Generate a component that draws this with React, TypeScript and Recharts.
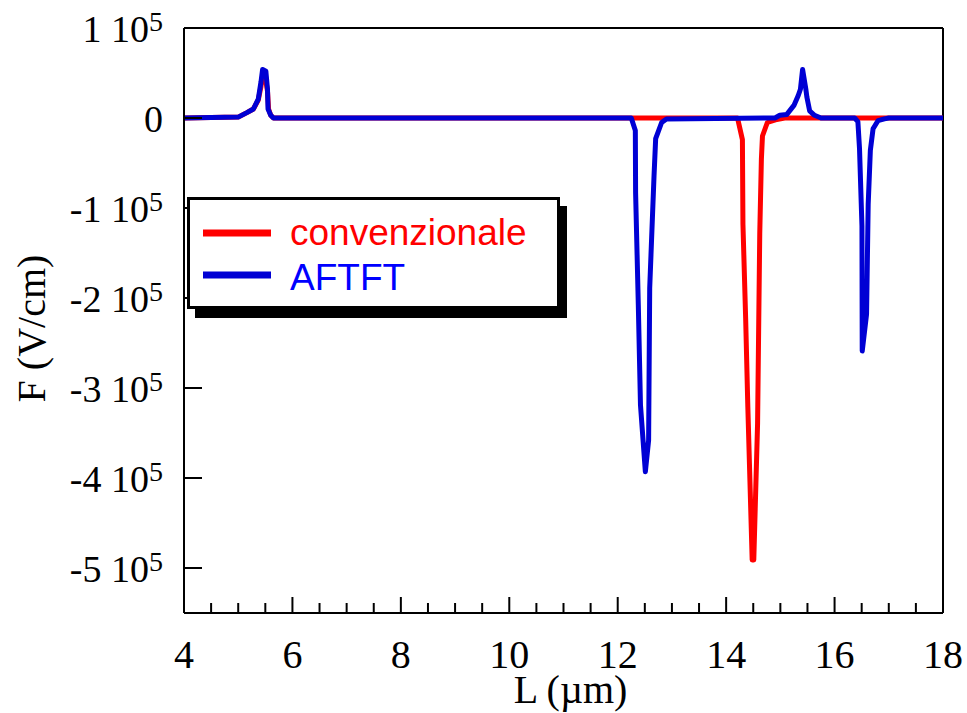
import { Line, LineChart, ReferenceLine, XAxis, YAxis } from 'recharts'

const SERIF = '"Liberation Serif", "Times New Roman", serif'
const SANS = '"Liberation Sans", Arial, sans-serif'

// L (µm) and F (V/cm)
const convL = [
  4, 5.0, 5.16, 5.28, 5.37, 5.42, 5.45, 5.5, 5.54, 5.56, 5.6, 5.65, 14.21,
  14.3, 14.31, 14.36, 14.4, 14.48, 14.51, 14.58, 14.62, 14.65, 14.67, 14.76,
  14.91, 15.08, 18,
]
const convF = [
  0, 1000, 6000, 10000, 20000, 35000, 47000, 45000, 30000, 10000, 3000, 0, 0,
  -24000, -118000, -223000, -321000, -491000, -491000, -339000, -128000,
  -46000, -20000, -5000, -2000, 0, 0,
]

const aftftL = [
  4, 5.0, 5.16, 5.28, 5.37, 5.42, 5.45, 5.51, 5.54, 5.55, 5.6, 5.65, 12.25,
  12.325, 12.33, 12.38, 12.42, 12.51, 12.57, 12.59, 12.67, 12.7, 12.81, 12.9,
  14.9, 14.99, 15.12, 15.25, 15.33, 15.37, 15.41, 15.47, 15.49, 15.54, 15.63,
  15.75, 16.37, 16.43, 16.46, 16.505, 16.51, 16.59, 16.62, 16.66, 16.71, 16.8,
  16.92, 17.0, 18,
]
const aftftF = [
  0, 1000, 6000, 10000, 21000, 40000, 54000, 52000, 32000, 10000, 3000, 0, 0,
  -14000, -83000, -208000, -319000, -393000, -358000, -189000, -64000,
  -23000, -5000, -1000, 0, 3000, 4000, 14000, 25000, 32000, 54000, 32000,
  23000, 8000, 3000, 0, 0, -4000, -34000, -120000, -259000, -218000, -96000,
  -36000, -12000, -3000, -1000, 0, 0,
]

const xTicks = [
  4, 4.5, 5, 5.5, 6, 6.5, 7, 7.5, 8, 8.5, 9, 9.5, 10, 10.5, 11, 11.5, 12,
  12.5, 13, 13.5, 14, 14.5, 15, 15.5, 16, 16.5, 17, 17.5, 18,
]
const yTicks = [100000, 0, -100000, -200000, -300000, -400000, -500000]

const series = [
  { name: 'convenzionale', line: '#ff0000', text: '#ff0000', L: convL, F: convF },
  { name: 'AFTFT', line: '#0000d4', text: '#0000ff', L: aftftL, F: aftftF },
]

const toRows = (L: number[], F: number[]) => L.map((l, i) => ({ L: l, F: F[i] }))

function LTick({ x, y, payload }: any) {
  const v = payload.value as number
  const major = v % 2 === 0
  return (
    <g>
      <line x1={x} x2={x} y1={y} y2={y - (major ? 16 : 10)} stroke="#000" strokeWidth={2} />
      {major && (
        <text x={x} y={y + 55} textAnchor="middle" fontFamily={SERIF} fontSize={40} fill="#000">
          {v}
        </text>
      )}
    </g>
  )
}

function FTick({ x, y, payload }: any) {
  const v = payload.value as number
  const n = v / 100000
  return (
    <g>
      <line x1={x} x2={x + 18} y1={y} y2={y} stroke="#000" strokeWidth={2} />
      <text x={x - 21} y={y + 14} textAnchor="end" fontFamily={SERIF} fontSize={38} fill="#000">
        {n === 0 ? (
          '0'
        ) : (
          <>
            {`${n} 10`}
            <tspan fontSize={28} dy={-11}>
              5
            </tspan>
          </>
        )}
      </text>
    </g>
  )
}

// axis titles placed from the axis viewBox
const xTitle = ({ viewBox }: any) => (
  <text x={viewBox.x + viewBox.width / 2 + 7} y={703} textAnchor="middle" fontFamily={SERIF} fontSize={40} fill="#000">
    L (µm)
  </text>
)
const yTitle = ({ viewBox }: any) => {
  const cy = viewBox.y + viewBox.height / 2 + 8
  return (
    <text x={45} y={cy} transform={`rotate(-90, 45, ${cy})`} textAnchor="middle" fontFamily={SERIF} fontSize={40} fill="#000">
      F (V/cm)
    </text>
  )
}

function LegendBox() {
  return (
    <svg width={967} height={713} style={{ position: 'absolute', left: 0, top: 0, pointerEvents: 'none' }}>
      <rect x={195} y={206} width={372} height={112} fill="#000" />
      <rect x={188.5} y={198.5} width={370} height={109} fill="#fff" stroke="#000" strokeWidth={3} />
      {series.map((s, i) => (
        <g key={s.name}>
          <line x1={203} x2={271} y1={233 + i * 42} y2={233 + i * 42} stroke={s.line} strokeWidth={7} />
          <text x={290} y={245 + i * 45} fontFamily={SANS} fontSize={37} fill={s.text}>
            {s.name}
          </text>
        </g>
      ))}
    </svg>
  )
}

export default function App() {
  return (
    <div style={{ position: 'absolute', left: 0, top: 0, width: 967, height: 713, background: '#fff' }}>
      <LineChart width={967} height={713} margin={{ top: 28, right: 24, left: 0, bottom: 0 }}>
        <XAxis
          type="number"
          dataKey="L"
          domain={[4, 18]}
          ticks={xTicks}
          interval={0}
          allowDataOverflow
          height={100}
          tickSize={0}
          tickMargin={0}
          tickLine={false}
          tick={<LTick />}
          axisLine={{ stroke: '#000', strokeWidth: 2 }}
          label={{ content: xTitle }}
        />
        <YAxis
          type="number"
          domain={[-550000, 100000]}
          ticks={yTicks}
          interval={0}
          allowDataOverflow
          width={184}
          tickSize={0}
          tickMargin={0}
          tickLine={false}
          tick={<FTick />}
          axisLine={{ stroke: '#000', strokeWidth: 2 }}
          label={{ content: yTitle }}
        />
        <ReferenceLine y={100000} stroke="#000" strokeWidth={2} />
        <ReferenceLine x={18} stroke="#000" strokeWidth={2} />
        {series.map((s) => (
          <Line
            key={s.name}
            data={toRows(s.L, s.F)}
            dataKey="F"
            name={s.name}
            type="linear"
            stroke={s.line}
            strokeWidth={5}
            strokeLinejoin="round"
            dot={false}
            isAnimationActive={false}
          />
        ))}
      </LineChart>
      <LegendBox />
    </div>
  )
}
